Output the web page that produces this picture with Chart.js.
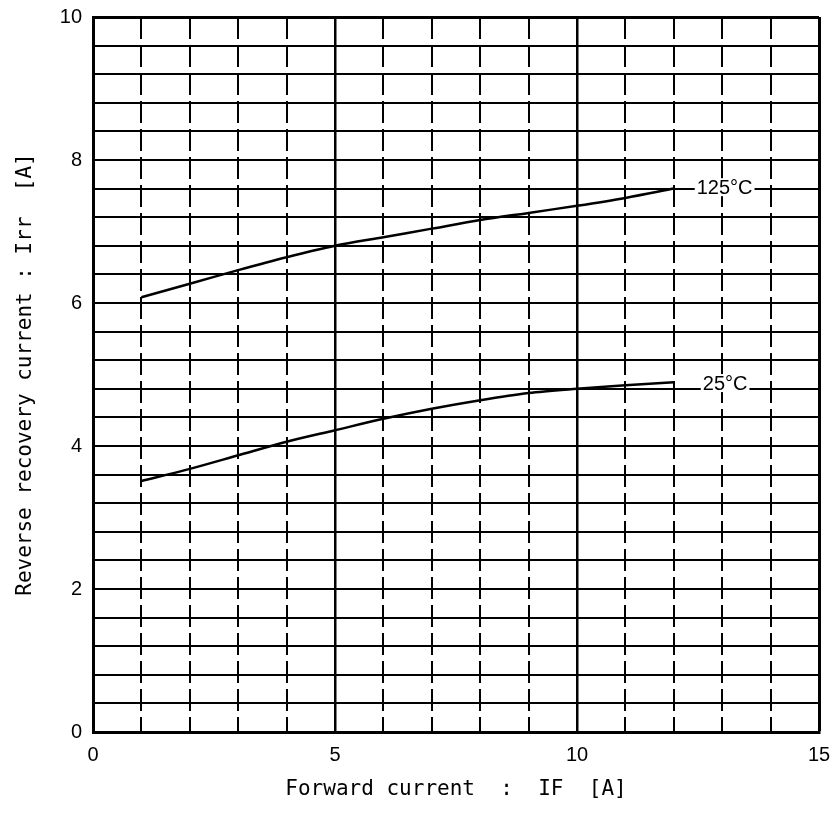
<!DOCTYPE html>
<html>
<head>
<meta charset="utf-8">
<script src="https://cdn.jsdelivr.net/npm/chart.js@4/dist/chart.umd.min.js"></script>
<style>
  html, body { margin: 0; padding: 0; background: #fff; }
  #wrap { width: 834px; height: 813px; position: relative; }
</style>
</head>
<body>
<div id="wrap"><canvas id="c" width="834" height="813"></canvas></div>
<script>
// Forward current IF [A]
const forwardCurrent = [1, 2, 3, 4, 5, 6, 7, 8, 9, 10, 11, 12];
// Reverse recovery current Irr [A]
const irr25 = [3.51, 3.68, 3.87, 4.06, 4.22, 4.38, 4.52, 4.64, 4.74, 4.80, 4.85, 4.89];
const irr125 = [6.08, 6.27, 6.46, 6.64, 6.80, 6.92, 7.04, 7.16, 7.26, 7.36, 7.47, 7.60];

const seriesNames = ['25°C', '125°C'];
const labelX = [13.06, 13.05];
const labelY = [4.88, 7.62];

const xTickLabels = [0, 5, 10, 15];
const yTickLabels = [0, 2, 4, 6, 8, 10];

const xTitle = 'Forward current  :  IF  [A]';
const yTitle = 'Reverse recovery current : Irr  [A]';

function toPoints(xs, ys) { return xs.map((x, i) => ({ x: x, y: ys[i] })); }
function isLabelled(v, list) { return list.some(t => Math.abs(t - v) < 1e-6); }

const curveLabels = {
  id: 'curveLabels',
  afterDatasetsDraw(chart) {
    const ctx = chart.ctx;
    const xs = chart.scales.x, ys = chart.scales.y;
    ctx.save();
    ctx.font = '20px "Liberation Sans", Arial, sans-serif';
    ctx.textAlign = 'center';
    ctx.textBaseline = 'middle';
    seriesNames.forEach((name, i) => {
      const px = xs.getPixelForValue(labelX[i]);
      const py = ys.getPixelForValue(labelY[i]);
      const w = ctx.measureText(name).width;
      ctx.fillStyle = '#fff';
      ctx.fillRect(px - w / 2 - 2, py - 9, w + 4, 18);
      ctx.fillStyle = '#000';
      ctx.fillText(name, px, py + 1);
    });
    ctx.restore();
  }
};

new Chart(document.getElementById('c'), {
  type: 'line',
  data: {
    datasets: [
      { label: seriesNames[0], data: toPoints(forwardCurrent, irr25), borderColor: '#000', borderWidth: 2.5, pointRadius: 0, tension: 0.3, fill: false },
      { label: seriesNames[1], data: toPoints(forwardCurrent, irr125), borderColor: '#000', borderWidth: 2.5, pointRadius: 0, tension: 0.3, fill: false }
    ]
  },
  options: {
    responsive: false,
    animation: false,
    devicePixelRatio: 1,
    layout: { padding: { left: 0, right: 15, top: 17, bottom: 0 } },
    plugins: { legend: { display: false }, tooltip: { enabled: false } },
    scales: {
      x: {
        type: 'linear',
        min: 0, max: 15,
        afterFit(scale) { scale.height = 81; scale.paddingLeft = 0; scale.paddingRight = 0; },
        ticks: {
          stepSize: 1, autoSkip: false, maxRotation: 0, padding: 11,
          color: '#000',
          font: { family: '"Liberation Sans", Arial, sans-serif', size: 20 },
          callback: (v) => isLabelled(v, xTickLabels) ? String(v) : ''
        },
        grid: {
          drawTicks: false,
          color: '#000',
          lineWidth: (c) => {
            const v = c.tick ? c.tick.value : 0;
            if (v === 15) return 3;
            return isLabelled(v, xTickLabels) ? 2.5 : 2;
          }
        },
        border: {
          display: true, color: '#000', width: 3,
          dash: (c) => {
            const v = c.tick ? c.tick.value : 0;
            return isLabelled(v, xTickLabels) ? [] : [22, 6];
          }
        },
        title: {
          display: true, text: xTitle, color: '#000',
          font: { family: '"DejaVu Sans Mono", monospace', size: 21 },
          padding: { top: 0, bottom: 11 }
        }
      },
      y: {
        type: 'linear',
        min: 0, max: 10,
        afterFit(scale) { scale.width = 93; scale.paddingTop = 0; scale.paddingBottom = 0; },
        ticks: {
          stepSize: 0.4, autoSkip: false, padding: 11,
          color: '#000',
          font: { family: '"Liberation Sans", Arial, sans-serif', size: 20 },
          callback: (v) => isLabelled(v, yTickLabels) ? String(Math.round(v)) : ''
        },
        grid: {
          drawTicks: false,
          color: '#000',
          lineWidth: (c) => {
            const v = c.tick ? c.tick.value : 0;
            return Math.abs(v - 10) < 1e-6 ? 3 : 2;
          }
        },
        border: { display: true, color: '#000', width: 3 },
        title: {
          display: true, text: yTitle, color: '#000',
          font: { family: '"DejaVu Sans Mono", monospace', size: 21 },
          padding: { top: 13, bottom: 0 }
        }
      }
    }
  },
  plugins: [curveLabels]
});
</script>
</body>
</html>
